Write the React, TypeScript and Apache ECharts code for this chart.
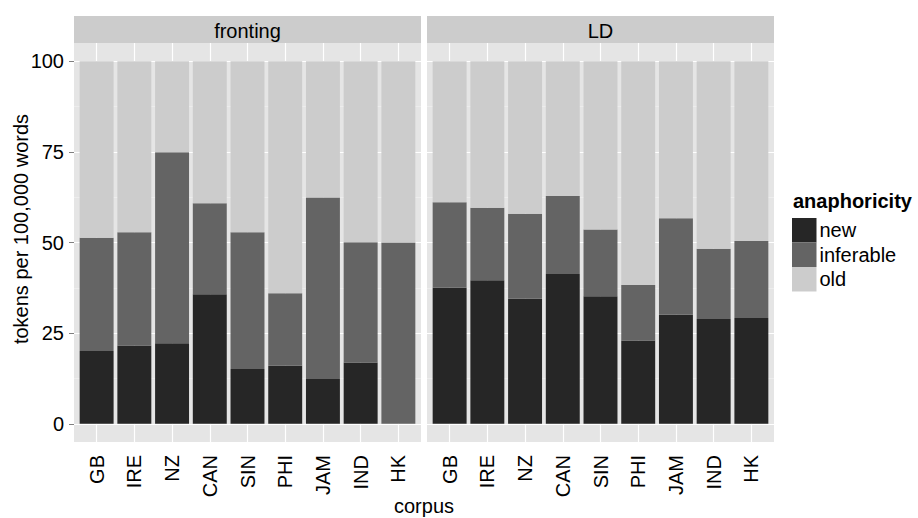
import React, { useEffect, useRef } from 'react';
import * as echarts from 'echarts';

// ---- data ----
const categories = ['GB', 'IRE', 'NZ', 'CAN', 'SIN', 'PHI', 'JAM', 'IND', 'HK'];
const facets = ['fronting', 'LD'];
const levels = ['new', 'inferable', 'old'];

const frontingNew = [20.1, 21.6, 22.2, 35.7, 15.1, 16.0, 12.4, 16.9, 0];
const frontingInferable = [31.2, 31.2, 52.7, 25.1, 37.7, 20.0, 50.0, 33.2, 50.0];
const frontingOld = [48.7, 47.2, 25.1, 39.2, 47.2, 64.0, 37.6, 49.9, 50.0];

const ldNew = [37.5, 39.6, 34.5, 41.3, 35.2, 23.0, 30.1, 28.9, 29.2];
const ldInferable = [23.6, 20.0, 23.4, 21.5, 18.4, 15.3, 26.6, 19.4, 21.2];
const ldOld = [38.9, 40.4, 42.1, 37.2, 46.4, 61.7, 43.3, 51.7, 49.6];

const yTicks = [0, 25, 50, 75, 100];

const facetData = [
  [frontingNew, frontingInferable, frontingOld],
  [ldNew, ldInferable, ldOld],
];

// ---- styles / layout ----
const FONT = "'Liberation Sans', Arial, sans-serif";
const levelColors = ['#262626', '#646464', '#CCCCCC'];
const panelBg = '#E5E5E5';
const stripBg = '#CCCCCC';
const tickColor = '#7F7F7F';
const panelLefts = [74, 427];
const panelWidth = 347;
const panelTop = 43;
const panelHeight = 399;
const stripTop = 16;
const stripHeight = 27;
const xExpand = 0.6; // discrete expansion (in category units)

export default function App() {
  const ref = useRef<HTMLDivElement>(null);

  useEffect(() => {
    if (!ref.current) return;
    const chart = echarts.init(ref.current, undefined, { renderer: 'svg' });

    const n = categories.length;
    const xVals = categories.map((_, i) => i + 1);
    const yMinor = yTicks.slice(1).map((v, i) => (v + yTicks[i]) / 2);
    const band = panelWidth / (n - 1 + 2 * xExpand);

    // grids 0,1: panel backgrounds, gridlines, axes ; grids 2,3: bars (category axes)
    const grids: any[] = panelLefts.map((left) => ({
      left,
      top: panelTop,
      width: panelWidth,
      height: panelHeight,
      show: true,
      backgroundColor: panelBg,
      borderWidth: 0,
    }));
    panelLefts.forEach((left) => {
      grids.push({
        left: left + (xExpand - 0.5) * band,
        top: panelTop,
        width: n * band,
        height: panelHeight,
        show: false,
      });
    });

    const xAxes: any[] = panelLefts.map((_, p) => ({
      type: 'value',
      gridIndex: p,
      min: 0.4,
      max: n + 0.6,
      splitLine: { show: false },
      axisLine: { show: false },
      axisTick: {
        show: true,
        customValues: xVals,
        length: 5,
        lineStyle: { color: tickColor, width: 1 },
      },
      axisLabel: {
        show: true,
        customValues: xVals,
        rotate: 90,
        margin: 13,
        fontSize: 20,
        fontFamily: FONT,
        color: '#000',
        formatter: (v: number) => categories[Math.round(v) - 1] ?? '',
      },
    }));
    panelLefts.forEach((_, p) => {
      xAxes.push({
        type: 'category',
        gridIndex: 2 + p,
        data: categories,
        show: false,
      });
    });

    const yAxes: any[] = panelLefts.map((_, p) => ({
      type: 'value',
      gridIndex: p,
      min: -5,
      max: 105,
      splitLine: { show: false },
      axisLine: { show: false },
      axisTick: {
        show: p === 0,
        customValues: yTicks,
        length: 5,
        lineStyle: { color: tickColor, width: 1 },
      },
      axisLabel: {
        show: p === 0,
        customValues: yTicks,
        margin: 10,
        fontSize: 20,
        fontFamily: FONT,
        color: '#000',
      },
    }));
    panelLefts.forEach((_, p) => {
      yAxes.push({
        type: 'value',
        gridIndex: 2 + p,
        min: -5,
        max: 105,
        show: false,
        splitLine: { show: false },
      });
    });

    const series: any[] = [];
    facets.forEach((_, p) => {
      // gridlines holder
      series.push({
        type: 'line',
        xAxisIndex: p,
        yAxisIndex: p,
        data: [],
        silent: true,
        markLine: {
          silent: true,
          symbol: ['none', 'none'],
          label: { show: false },
          animation: false,
          data: [
            ...yMinor.map((v) => ({ yAxis: v, lineStyle: { color: '#F2F2F2', width: 0.6, type: 'solid' } })),
            ...yTicks.map((v) => ({ yAxis: v, lineStyle: { color: '#FFFFFF', width: 1.2, type: 'solid' } })),
            ...xVals.map((v) => ({ xAxis: v, lineStyle: { color: '#FFFFFF', width: 1.2, type: 'solid' } })),
          ],
        },
      });
      levels.forEach((lvl, k) => {
        series.push({
          type: 'bar',
          name: lvl,
          xAxisIndex: 2 + p,
          yAxisIndex: 2 + p,
          stack: 'facet' + p,
          barWidth: '90%',
          z: 10,
          itemStyle: { color: levelColors[k] },
          data: facetData[p][k],
        });
      });
    });

    const graphics: any[] = [];
    facets.forEach((f, p) => {
      graphics.push({
        type: 'rect',
        shape: { x: panelLefts[p], y: stripTop, width: panelWidth, height: stripHeight },
        style: { fill: stripBg },
        silent: true,
      });
      graphics.push({
        type: 'text',
        x: panelLefts[p] + panelWidth / 2,
        y: stripTop + stripHeight / 2 + 1,
        style: {
          text: f,
          fontSize: 20,
          fontFamily: FONT,
          fill: '#000',
          align: 'center',
          verticalAlign: 'middle',
          textAlign: 'center',
          textVerticalAlign: 'middle',
        },
        silent: true,
      });
    });
    graphics.push({
      type: 'text',
      x: (panelLefts[0] + panelLefts[1] + panelWidth) / 2,
      y: 506,
      style: {
        text: 'corpus',
        fontSize: 20,
        fontFamily: FONT,
        fill: '#000',
        align: 'center',
        verticalAlign: 'middle',
        textAlign: 'center',
        textVerticalAlign: 'middle',
      },
    });
    graphics.push({
      type: 'text',
      x: 20.5,
      y: (stripTop + panelTop + panelHeight) / 2,
      rotation: Math.PI / 2,
      style: {
        text: 'tokens per 100,000 words',
        fontSize: 20,
        fontFamily: FONT,
        fill: '#000',
        align: 'center',
        verticalAlign: 'middle',
        textAlign: 'center',
        textVerticalAlign: 'middle',
      },
    });
    graphics.push({
      type: 'text',
      x: 793,
      y: 201,
      style: {
        text: 'anaphoricity',
        fontSize: 20,
        fontWeight: 'bold',
        fontFamily: FONT,
        fill: '#000',
        align: 'left',
        verticalAlign: 'middle',
        textAlign: 'left',
        textVerticalAlign: 'middle',
      },
    });

    chart.setOption({
      animation: false,
      backgroundColor: '#FFFFFF',
      textStyle: { fontFamily: FONT },
      grid: grids,
      xAxis: xAxes,
      yAxis: yAxes,
      legend: {
        data: levels,
        orient: 'vertical',
        left: 792,
        top: 218,
        padding: 0,
        itemGap: 0,
        itemWidth: 24.5,
        itemHeight: 24.5,
        icon: 'rect',
        selectedMode: false,
        textStyle: { fontSize: 20, fontFamily: FONT, color: '#000', lineHeight: 24.5, padding: [0, 0, 0, -2] },
      },
      graphic: graphics,
      series,
    });

    return () => chart.dispose();
  }, []);

  return (
    <div
      ref={ref}
      style={{ position: 'fixed', left: 0, top: 0, width: 918, height: 518 }}
    />
  );
}
